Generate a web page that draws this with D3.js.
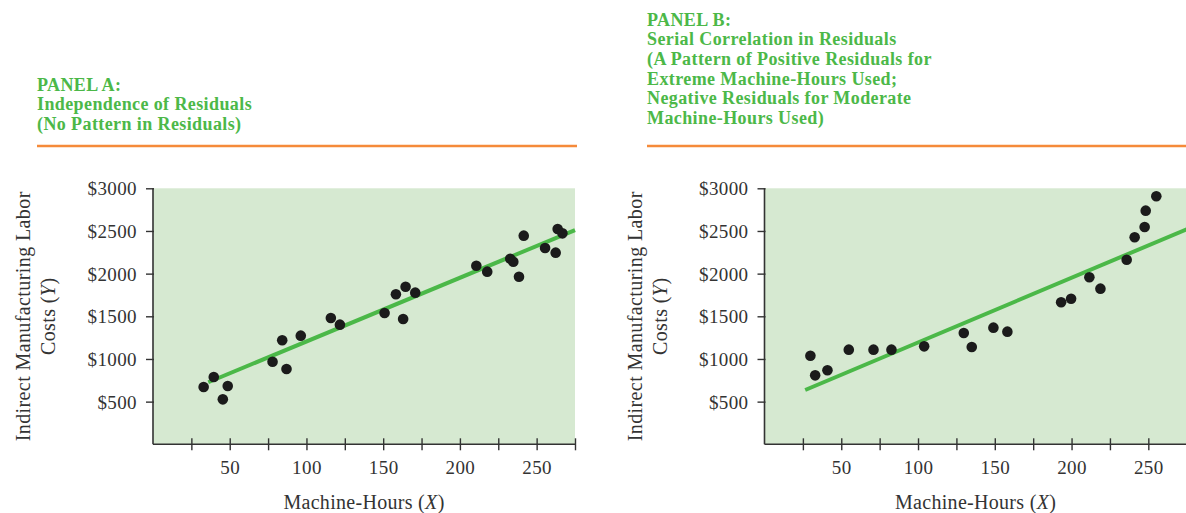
<!DOCTYPE html>
<html>
<head>
<meta charset="utf-8">
<script src="https://cdn.jsdelivr.net/npm/d3@7"></script>
<style>
  html, body { margin: 0; padding: 0; background: #fff; }
  svg { display: block; }
  text { font-family: "Liberation Serif", "Times New Roman", serif; }
</style>
</head>
<body>
<svg id="chart" width="1186" height="513"></svg>
<script>
// ---------- DATA ----------
const titleA = ["PANEL A:", "Independence of Residuals", "(No Pattern in Residuals)"];
const titleB = ["PANEL B:", "Serial Correlation in Residuals", "(A Pattern of Positive Residuals for",
                "Extreme Machine-Hours Used;", "Negative Residuals for Moderate", "Machine-Hours Used)"];

const xTicks = [25, 50, 75, 100, 125, 150, 175, 200, 225, 250, 275];
const xLabels = [50, 100, 150, 200, 250];
const yTicks = [500, 1000, 1500, 2000, 2500, 3000];

// Panel A: machine-hours, cost
const hoursA = [33, 39.6, 45.5, 48.7, 77.9, 84.2, 87, 96.3, 115.9, 121.8, 150.9, 158.3, 164.6, 163, 170.9,
                210.7, 217.8, 232.8, 234.8, 238.5, 241.6, 255.5, 262.4, 263.7, 266.8];
const costA  = [671, 789, 527, 683, 968, 1219, 882, 1273, 1480, 1402, 1539, 1758, 1847, 1469, 1777,
                2093, 2023, 2175, 2140, 1964, 2445, 2300, 2246, 2523, 2472];
const fitA = [[36, 727], [275, 2511]];

// Panel B
const hoursB = [29.9, 33, 41, 54.9, 71, 82.7, 104, 129.8, 135, 149.1, 158.2, 193.2, 199.7, 211.6, 218.8,
                235.9, 241.1, 247.6, 248.3, 255.2];
const costB  = [1038, 808, 867, 1109, 1109, 1109, 1148, 1304, 1140, 1367, 1320, 1664, 1706, 1957, 1824,
                2163, 2426, 2547, 2738, 2906];
const fitB = [[26.5, 636], [275, 2520]];

// ---------- DRAW ----------
const svg = d3.select("#chart");
const GREEN_TXT = "#4cb848";
const ORANGE = "#f58a3a";
const BG = "#d6e9d1";
const AXIS = "#333333";

function panel(opts) {
  const { titleLines, titleX, titleBaseline, ruleX0, ruleX1, xr, hours, cost, fit } = opts;
  const x = d3.scaleLinear().domain([0, 275]).range(xr);
  const y = d3.scaleLinear().domain([0, 3000]).range([444.3, 188.3]);

  // title
  const t = svg.append("text")
    .attr("x", titleX).attr("y", titleBaseline)
    .attr("fill", GREEN_TXT)
    .style("font-size", "18px").style("font-weight", "bold")
    .style("letter-spacing", "0.4px");
  t.selectAll("tspan").data(titleLines).join("tspan")
    .attr("x", titleX).attr("dy", (d, i) => i === 0 ? 0 : 19.6)
    .text(d => d);

  // orange rule
  svg.append("line")
    .attr("x1", ruleX0).attr("x2", ruleX1).attr("y1", 146).attr("y2", 146)
    .attr("stroke", ORANGE).attr("stroke-width", 2.6);

  // plot background
  svg.append("rect")
    .attr("x", x(0)).attr("y", y(3000))
    .attr("width", x(275) - x(0)).attr("height", y(0) - y(3000))
    .attr("fill", BG);

  // regression line
  svg.append("line")
    .attr("x1", x(fit[0][0])).attr("y1", y(fit[0][1]))
    .attr("x2", x(fit[1][0])).attr("y2", y(fit[1][1]))
    .attr("stroke", "#4bb848").attr("stroke-width", 4);

  // points
  svg.append("g").selectAll("circle").data(hours).join("circle")
    .attr("cx", d => x(d)).attr("cy", (d, i) => y(cost[i]))
    .attr("r", 5.3).attr("fill", "#1b1b1b");

  // x axis
  const gx = svg.append("g").attr("transform", `translate(0,${y(0)})`)
    .call(d3.axisBottom(x).tickValues(xTicks).tickSize(6).tickSizeOuter(0)
      .tickFormat(d => xLabels.includes(d) ? d : ""));
  gx.select(".domain").attr("stroke", AXIS).attr("stroke-width", 1.6)
    .attr("d", `M${x(0)},0H${x(275)}`);
  gx.selectAll(".tick line").attr("stroke", AXIS).attr("stroke-width", 1.4)
    .attr("y1", -6).attr("y2", 6);
  gx.selectAll(".tick text").attr("fill", AXIS).attr("y", 16).attr("dy", "0.71em")
    .style("font-size", "19px").style("font-family", "'Liberation Serif', serif")
    .style("letter-spacing", "0.4px");

  // y axis
  const gy = svg.append("g").attr("transform", `translate(${x(0)},0)`)
    .call(d3.axisLeft(y).tickValues(yTicks).tickSize(7).tickSizeOuter(0)
      .tickFormat(d => "$" + d));
  gy.select(".domain").attr("stroke", AXIS).attr("stroke-width", 1.6)
    .attr("d", `M0,${y(3000)}V${y(0)}`);
  gy.selectAll(".tick line").attr("stroke", AXIS).attr("stroke-width", 1.4)
    .attr("x1", -7).attr("x2", 1);
  gy.selectAll(".tick text").attr("fill", AXIS).attr("x", -16).attr("dy", "0.34em")
    .style("font-size", "19px").style("font-family", "'Liberation Serif', serif")
    .style("letter-spacing", "0.4px");

  // x title
  const xt = svg.append("text")
    .attr("x", (x(0) + x(275)) / 2).attr("y", 509)
    .attr("text-anchor", "middle").attr("fill", AXIS)
    .style("font-size", "20px").style("letter-spacing", "0.3px");
  xt.append("tspan").text("Machine-Hours (");
  xt.append("tspan").style("font-style", "italic").text("X");
  xt.append("tspan").text(")");

  // y title
  const cy = (y(0) + y(3000)) / 2;
  svg.append("text")
    .attr("transform", `translate(${x(0) - 130},${cy}) rotate(-90)`)
    .attr("text-anchor", "middle").attr("dy", "0.35em").attr("fill", AXIS)
    .style("font-size", "20px").style("letter-spacing", "0.4px")
    .text("Indirect Manufacturing Labor");
  const yt2 = svg.append("text")
    .attr("transform", `translate(${x(0) - 105},${cy}) rotate(-90)`)
    .attr("text-anchor", "middle").attr("dy", "0.35em").attr("fill", AXIS)
    .style("font-size", "20px").style("letter-spacing", "0.4px");
  yt2.append("tspan").text("Costs (");
  yt2.append("tspan").style("font-style", "italic").text("Y");
  yt2.append("tspan").text(")");
}

panel({ titleLines: titleA, titleX: 37, titleBaseline: 90.7, ruleX0: 37, ruleX1: 577,
        xr: [153, 575], hours: hoursA, cost: costA, fit: fitA });
panel({ titleLines: titleB, titleX: 647, titleBaseline: 25.7, ruleX0: 647, ruleX1: 1186,
        xr: [764.5, 1186.7], hours: hoursB, cost: costB, fit: fitB });
</script>
</body>
</html>
